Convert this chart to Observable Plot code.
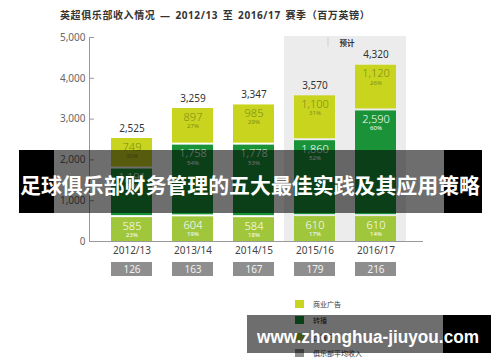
<!DOCTYPE html>
<html><head><meta charset="utf-8">
<script src="https://cdn.jsdelivr.net/npm/d3@7"></script>
<script src="https://cdn.jsdelivr.net/npm/@observablehq/plot@0.6"></script>
<style>
body{margin:0;background:#fff;}
#wrap{position:relative;width:500px;height:362px;overflow:hidden;font-family:"Noto Sans","Noto Sans CJK SC",sans-serif;background:#fff;}
#title{height:28px;box-sizing:border-box;padding-left:60px;padding-top:8px;font-size:10px;font-weight:bold;color:#333;line-height:14px;white-space:pre;letter-spacing:0.6px;word-spacing:1.5px;font-family:"Noto Sans","Noto Sans CJK SC",sans-serif;}
svg{display:block}
.legend{position:absolute;left:295px;top:296px;font-size:7px;color:#333;font-family:"Noto Sans CJK SC",sans-serif;}
.legend .it{display:flex;align-items:center;height:16.3px;}
.legend .sw{width:9px;height:8px;margin-right:9px;}
.ov{position:absolute;z-index:5;}
</style></head><body>
<div id="wrap">
  <div id="title"></div>
  <div id="main"></div>
  <div id="avg"></div>
  <div class="legend" id="legend"></div>
</div>
<script>
const title = "英超俱乐部收入情况 — 2012/13 至 2016/17 赛季（百万英镑）";
const years = ["2012/13", "2013/14", "2014/15", "2015/16", "2016/17"];
const matchday = [585, 604, 584, 610, 610];
const broadcast = [1191, 1758, 1778, 1860, 2590];
const commercial = [749, 897, 985, 1100, 1120];
const totals = [2525, 3259, 3347, 3570, 4320];
const matchdayPct = ["23%", "19%", "18%", "17%", "14%"];
const broadcastPct = ["47%", "54%", "53%", "52%", "60%"];
const commercialPct = ["30%", "27%", "29%", "31%", "26%"];
const avgClub = [126, 163, 167, 179, 216];
const forecastYears = ["2015/16", "2016/17"];
const forecastLabel = "预计";
const yTicks = [0, 1000, 2000, 3000, 4000, 5000];
const legendNames = ["商业广告", "转播", "比赛日", "俱乐部平均收入"];
const bannerText = "足球俱乐部财务管理的五大最佳实践及其应用策略";
const watermarkText = "www.zhonghua-jiuyou.com";

const C = {commercial: "#c8d41e", broadcast: "#1a9238", matchday: "#a0c63c", avg: "#8e8e8e", bg: "#ececec"};
const FONT = '"Noto Sans","Noto Sans CJK SC",sans-serif';

document.getElementById("title").textContent = title;

const mRows = years.map((y, i) => ({year: y, y1: 0, y2: matchday[i], v: matchday[i], p: matchdayPct[i]}));
const bRows = years.map((y, i) => ({year: y, y1: matchday[i], y2: matchday[i] + broadcast[i], v: broadcast[i], p: broadcastPct[i]}));
const cRows = years.map((y, i) => ({year: y, y1: matchday[i] + broadcast[i], y2: matchday[i] + broadcast[i] + commercial[i], v: commercial[i], p: commercialPct[i]}));
const tRows = years.map((y, i) => ({year: y, t: totals[i]}));
const aRows = years.map((y, i) => ({year: y, a: avgClub[i]}));

const xScale = {type: "band", domain: years, paddingInner: 0.332, paddingOuter: 0.386, align: 0.443, axis: null};
const fmt = d3.format(",");

function segMarks(rows, fill, inset, textFill) {
  return [
    Plot.barY(rows, {x: "year", y1: "y1", y2: "y2", fill, insetBottom: inset}),
    Plot.text(rows, {x: "year", y: "y2", text: d => fmt(d.v), dy: 8.5, fill: textFill, fontSize: 11, fontWeight: 300, lineAnchor: "middle"}),
    Plot.text(rows, {x: "year", y: "y2", text: "p", dy: 17.5, fill: textFill, fontSize: 6, lineAnchor: "middle"})
  ];
}

const main = Plot.plot({
  width: 500, height: 234,
  marginTop: 9, marginBottom: 21, marginLeft: 89, marginRight: 77,
  style: {fontFamily: FONT, fontSize: "10px", background: "transparent"},
  x: xScale,
  y: {domain: [0, 5000], axis: null},
  marks: [
    Plot.barY(forecastYears, {x: d => d, y1: 0, y2: 5000, fill: C.bg, insetLeft: -10, insetRight: -10, insetTop: -1}),
    Plot.ruleX([forecastYears[0]], {dx: 13, y1: 4760, y2: 4990, stroke: "#cfcfcf"}),
    Plot.text([forecastLabel], {x: () => forecastYears[1], y: 5000, dx: -29, dy: 6.5, text: d => d, fontSize: 7.5, fontWeight: "bold", fill: "#333", lineAnchor: "middle", fontFamily: '"Noto Sans CJK SC",sans-serif'}),
    Plot.axisY({ticks: yTicks, tickSize: 0, tickPadding: 4, tickFormat: fmt, fill: "#666", fontSize: 10, label: null}),
    Plot.ruleY(yTicks, {insetRight: 329, stroke: "#999"}),
    Plot.frame({anchor: "left", stroke: "#999"}),
    Plot.ruleY([0], {stroke: "#999"}),
    ...segMarks(mRows, C.matchday, 0, "#fff"),
    ...segMarks(bRows, C.broadcast, 2, "#fff"),
    ...segMarks(cRows, C.commercial, 2, "#7f8f14"),
    Plot.text(tRows, {x: "year", y: "t", text: d => fmt(d.t), dy: -10, fill: "#333", fontSize: 10, lineAnchor: "middle"}),
    Plot.axisX({tickSize: 0, tickPadding: 5, fill: "#444", fontSize: 10, label: null})
  ]
});
document.getElementById("main").appendChild(main);

const avg = Plot.plot({
  width: 500, height: 14,
  marginTop: 0, marginBottom: 0, marginLeft: 89, marginRight: 77,
  style: {fontFamily: FONT, fontSize: "10px", background: "transparent"},
  x: xScale,
  marks: [
    Plot.cell(aRows, {x: "year", fill: C.avg, inset: 0}),
    Plot.text(aRows, {x: "year", text: "a", fill: "#f2f2f2", fontSize: 10, frameAnchor: "middle", lineAnchor: "middle"})
  ]
});
document.getElementById("avg").appendChild(avg);

const legendColors = [C.commercial, C.broadcast, C.matchday, C.avg];
document.getElementById("legend").innerHTML = legendNames.map((n, i) =>
  `<div class="it"><div class="sw" style="background:${legendColors[i]}"></div><span>${n}</span></div>`).join("");

// overlay banners (photo watermark text)
const wrap = document.getElementById("wrap");
function box(l, t, w, h, bg) {
  const d = document.createElement("div");
  d.className = "ov";
  Object.assign(d.style, {left: l + "px", top: t + "px", width: w + "px", height: h + "px", background: bg});
  wrap.appendChild(d);
}
box(19, 150, 35, 63, "#000");
box(54, 150, 390, 63, "rgba(0,0,0,0.57)");
box(444, 150, 38, 63, "#000");
box(247, 315, 196, 38, "rgba(0,0,0,0.57)");
box(443, 315, 48, 38, "#000");

const ns = "http://www.w3.org/2000/svg";
const osvg = document.createElementNS(ns, "svg");
osvg.setAttribute("width", 500); osvg.setAttribute("height", 362);
Object.assign(osvg.style, {position: "absolute", left: "0px", top: "0px", zIndex: 6});
function otext(str, x, y, len, size, family, baseline) {
  const t = document.createElementNS(ns, "text");
  t.setAttribute("x", x); t.setAttribute("y", y);
  t.setAttribute("textLength", len); t.setAttribute("lengthAdjust", "spacingAndGlyphs");
  t.setAttribute("font-size", size); t.setAttribute("font-weight", "bold");
  t.setAttribute("font-family", family); t.setAttribute("fill", "#fff");
  if (baseline) t.setAttribute("dominant-baseline", baseline);
  t.textContent = str;
  osvg.appendChild(t);
}
otext(bannerText, 20, 184, 460, 21, '"Noto Sans CJK SC",sans-serif', "central");
otext(watermarkText, 257, 343, 222, 18, '"Liberation Sans",Arial,sans-serif', null);
wrap.appendChild(osvg);
</script>
</body></html>
